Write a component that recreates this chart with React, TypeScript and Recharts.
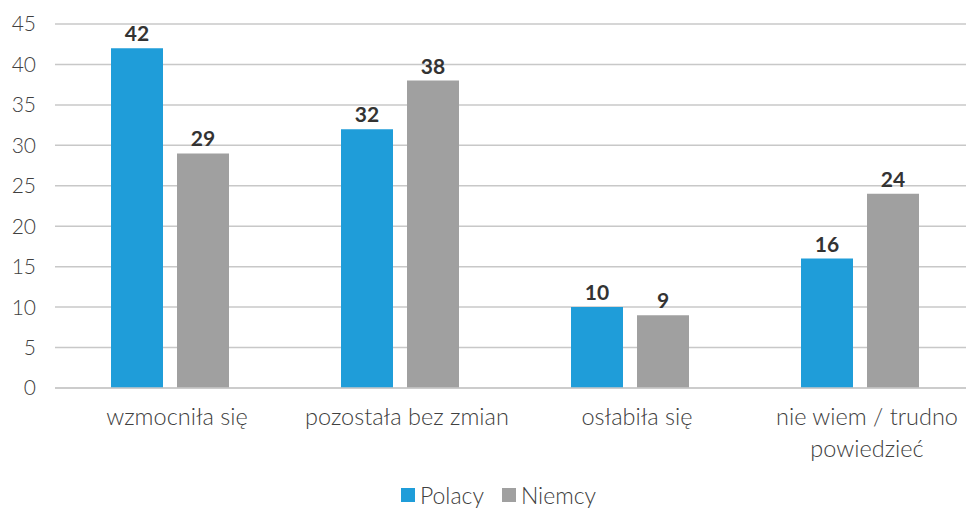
import { BarChart, Bar, XAxis, YAxis, CartesianGrid, Legend, LabelList } from 'recharts';

const categories = ['wzmocniła się', 'pozostała bez zmian', 'osłabiła się', 'nie wiem / trudno powiedzieć'];
const polacy = [42, 32, 10, 16];
const niemcy = [29, 38, 9, 24];
const yTicks = [0, 5, 10, 15, 20, 25, 30, 35, 40, 45];
const seriesNames = ['Polacy', 'Niemcy'];
const seriesColors = ['#1f9dd9', '#a0a0a0'];

const data = categories.map((name, i) => ({ name, Polacy: polacy[i], Niemcy: niemcy[i] }));

const FONT = 'Lato, "Open Sans", sans-serif';
const TEXT = '#404040';

function wrap(s: string, max: number): string[] {
  const lines: string[] = [];
  let cur = '';
  for (const w of s.split(' ')) {
    const next = cur ? cur + ' ' + w : w;
    if (next.length > max && cur) {
      lines.push(cur);
      cur = w;
    } else cur = next;
  }
  if (cur) lines.push(cur);
  return lines;
}

function CatTick({ x, y, payload }: any) {
  const lines = wrap(payload.value, 19);
  const cx = x + 7;
  return (
    <text x={cx} y={y} textAnchor="middle" fill={TEXT} fontSize={23.5} fontWeight={300} fontFamily={FONT}>
      {lines.map((l, i) => (
        <tspan key={i} x={cx} dy={i === 0 ? 29 : 32}>{l}</tspan>
      ))}
    </text>
  );
}

function LegendBox() {
  return (
    <div style={{ display: 'flex', justifyContent: 'center', gap: 18, height: 26, lineHeight: '24px', paddingLeft: 22, fontFamily: FONT, fontSize: 23, fontWeight: 300, color: TEXT }}>
      {seriesNames.map((n, i) => (
        <div key={n} style={{ display: 'flex', alignItems: 'center', gap: 5 }}>
          <span style={{ width: 14, height: 14, background: seriesColors[i], display: 'inline-block' }} />
          <span>{n}</span>
        </div>
      ))}
    </div>
  );
}

export default function App() {
  return (
    <div style={{ position: 'absolute', left: 0, top: 0, width: 966, height: 508, overflow: 'hidden', background: '#fff' }}>
      <BarChart
        width={975}
        height={508}
        data={data}
        margin={{ top: 24, right: 0, left: 0, bottom: 0 }}
        barGap={14}
        barSize={52}
        barCategoryGap={56}
      >
        <CartesianGrid vertical={false} stroke="#c8c8c8" strokeWidth={1.5} />
        <XAxis
          dataKey="name"
          height={94}
          tickLine={false}
          axisLine={{ stroke: '#c8c8c8', strokeWidth: 1.5 }}
          interval={0}
          tick={<CatTick />}
        />
        <YAxis
          width={55}
          domain={[0, 45]}
          ticks={yTicks}
          tickLine={false}
          axisLine={false}
          tickMargin={13}
          tick={{ fill: TEXT, fontSize: 21, fontWeight: 300, fontFamily: FONT }}
        />
        <Legend verticalAlign="bottom" height={26} content={<LegendBox />} />
        {seriesNames.map((n, i) => (
          <Bar key={n} dataKey={n} fill={seriesColors[i]} isAnimationActive={false}>
            <LabelList dataKey={n} position="top" offset={7} fill="#333" fontSize={21} fontWeight={700} fontFamily={FONT} />
          </Bar>
        ))}
      </BarChart>
    </div>
  );
}
